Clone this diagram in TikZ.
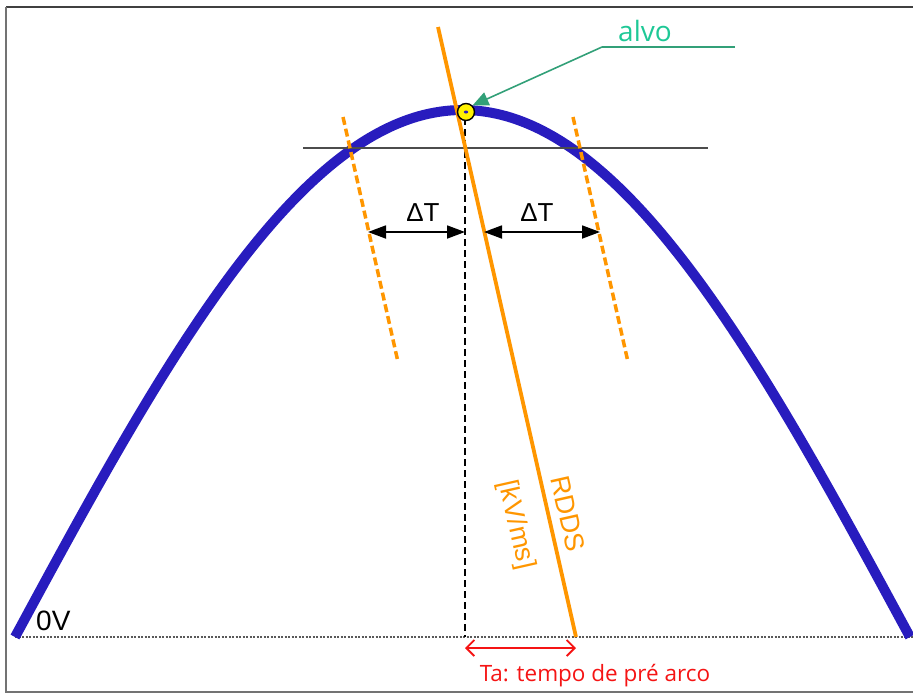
\documentclass[tikz,border=0pt]{standalone}
\usepackage{fontspec}
\setmainfont{Liberation Sans}
\newfontfamily\ofont{Open Sans}
\usetikzlibrary{arrows.meta}
\definecolor{wave}{RGB}{40,28,190}
\definecolor{orng}{RGB}{255,150,0}
\definecolor{tealtxt}{RGB}{30,200,150}
\definecolor{tealln}{RGB}{50,160,120}
\definecolor{redc}{RGB}{245,20,20}
\tikzset{
  dtarrow/.style={draw=black, line width=1.8pt, {Triangle[length=18pt,width=13pt]}-{Triangle[length=18pt,width=13pt]}},
  orangedash/.style={draw=orng, line width=3.5pt, dash pattern=on 8pt off 4pt},
  lbl/.style={inner sep=0pt, font=\fontsize{26}{26}\selectfont},
  rlbl/.style={inner sep=0pt, text=orng, rotate=-77.3, font=\fontsize{27}{27}\selectfont}
}
\begin{document}
\begin{tikzpicture}[x=1pt,y=-1pt]
\useasboundingbox (0,0) rectangle (913,694);
% frame
\draw[line width=2pt, black!75] (6,7) -- (913,7);
\draw[line width=2pt, black!55] (6,7) -- (6,692) -- (913,692);
% coordinates
\coordinate (base0) at (15,637);
\coordinate (base1) at (913,637);
\coordinate (peak) at (466,112);
% baseline
\draw[black!65, line width=1.5pt, dash pattern=on 2pt off 1.5pt] (base0) -- (base1);
% wave
\draw[wave, line width=10pt] plot[domain=15:910, samples=150, smooth] (\x, {637-527*sin((\x-15)/895*180)});
% horizontal level line
\coordinate (h0) at (303,148);
\coordinate (h1) at (708,148);
\draw[black!70, line width=1.6pt] (h0) -- (h1);
% vertical dashed
\coordinate (v0) at (465,118);
\coordinate (v1) at (465,637);
\draw[black, line width=1.3pt, dash pattern=on 7pt off 4pt] (v0) -- (v1);
% orange RDDS line
\coordinate (o0) at (438,27);
\coordinate (o1) at (576,637);
\draw[orng, line width=3.8pt] (o0) -- (o1);
% orange dashed
\coordinate (l0) at (343,117);
\coordinate (l1) at (398,362);
\coordinate (r0) at (573,117);
\coordinate (r1) at (628,362);
\draw[orangedash] (l0) -- (l1);
\draw[orangedash] (r0) -- (r1);
% delta T arrows
\coordinate (al) at (368,232);
\coordinate (am) at (465,232);
\coordinate (an) at (484,232);
\coordinate (ar) at (600,232);
\draw[dtarrow] (al) -- (am);
\draw[dtarrow] (an) -- (ar);
\node[lbl] (dt1) at (423,213) {ΔT};
\node[lbl] (dt2) at (537,213) {ΔT};
% target point
\node[circle, draw=black, line width=1.4pt, fill=yellow, minimum size=17pt, inner sep=0pt] (tgt) at (peak) {};
\fill[wave] (peak) ellipse (2.2pt and 1.5pt);
% alvo
\node[inner sep=0pt, text=tealtxt, font=\ofont\fontsize{28}{28}\selectfont] (alvo) at (645,31) {alvo};
\coordinate (u0) at (602,47);
\coordinate (u1) at (735,47);
\draw[tealln, line width=1.6pt] (u1) -- (u0);
\draw[tealln, line width=1.6pt, -{Triangle[length=16pt,width=14pt]}] (u0) -- (tgt.north east);
% RDDS labels
\node[rlbl] (rdds) at (568,514) {RDDS};
\node[rlbl] (kvms) at (516,525) {[kV/ms]};
% 0V
\node[lbl, anchor=west, font=\fontsize{28}{28}\selectfont] (zv) at (36,621) {0V};
% Ta
\coordinate (t0) at (465,648);
\coordinate (t1) at (576,648);
\draw[redc, line width=1.8pt, {Straight Barb[length=8pt,width=16pt]}-{Straight Barb[length=8pt,width=16pt]}] (t0) -- (t1);
\node[inner sep=0pt, text=redc, font=\ofont\fontsize{22.5}{22.5}\selectfont] (ta) at (595,676) {Ta: tempo de pré arco};
\end{tikzpicture}
\end{document}
